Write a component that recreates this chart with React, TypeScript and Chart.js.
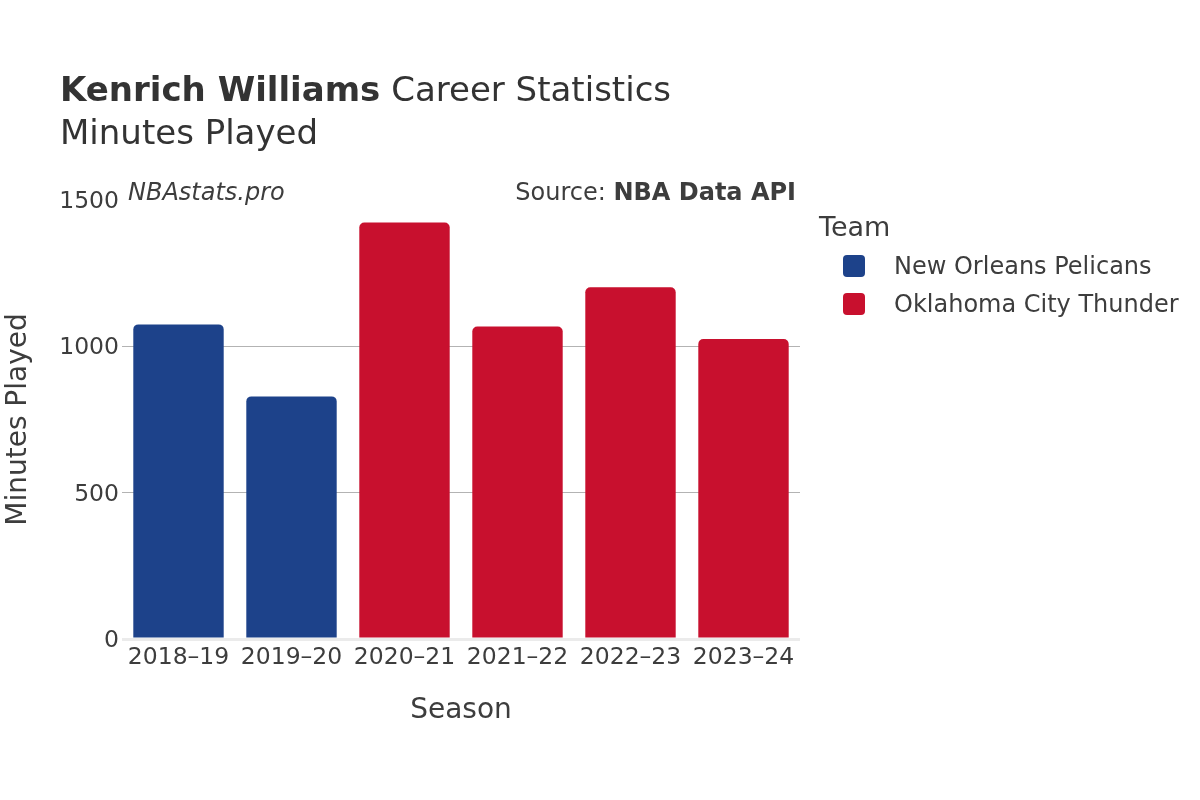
import React, { useEffect, useRef } from "react";
import { Chart, registerables } from "chart.js";

Chart.register(...registerables);

const seasons = ["2018–19", "2019–20", "2020–21", "2021–22", "2022–23", "2023–24"];
const teams = ["New Orleans Pelicans", "Oklahoma City Thunder"];
const teamColors = ["#1d428a", "#c8102e"];
const pelicansMinutes = [1075, 829, null, null, null, null];
const thunderMinutes = [null, null, 1423, 1068, 1202, 1025];
const yTicks = [0, 500, 1000, 1500];

const FONT = "'DejaVu Sans', sans-serif";
const TEXT = "#3d3d3d";
const TITLE = "#333333";

export default function App() {
  const canvasRef = useRef<HTMLCanvasElement | null>(null);

  useEffect(() => {
    if (!canvasRef.current) return;
    const chart = new Chart(canvasRef.current, {
      type: "bar",
      data: {
        labels: seasons,
        datasets: [
          {
            label: teams[0],
            data: pelicansMinutes,
            backgroundColor: teamColors[0],
            borderRadius: 5,
            borderSkipped: "start",
            barPercentage: 0.8,
            categoryPercentage: 1.0,
          },
          {
            label: teams[1],
            data: thunderMinutes,
            backgroundColor: teamColors[1],
            borderRadius: 5,
            borderSkipped: "start",
            barPercentage: 0.8,
            categoryPercentage: 1.0,
          },
        ],
      },
      options: {
        animation: false,
        responsive: false,
        maintainAspectRatio: false,
        layout: { padding: { left: 0, right: 400, top: 200, bottom: 0 } },
        plugins: {
          legend: { display: false },
          tooltip: { enabled: false },
          title: { display: false },
        },
        scales: {
          x: {
            stacked: true,
            grid: { display: false, drawTicks: false },
            border: { display: false },
            ticks: {
              color: TEXT,
              font: { family: FONT, size: 23.5 },
              padding: 5,
              maxRotation: 0,
            },
            title: {
              display: true,
              text: "Season",
              color: TEXT,
              font: { family: FONT, size: 28 },
              padding: { top: 0, bottom: 72 },
            },
            afterFit: (scale: any) => {
              scale.height = 161;
            },
          },
          y: {
            stacked: true,
            min: 0,
            max: 1500,
            afterBuildTicks: (scale: any) => {
              scale.ticks = yTicks.map((v) => ({ value: v }));
            },
            grid: {
              drawTicks: false,
              color: (ctx: any) =>
                ctx.tick && ctx.tick.value === 0
                  ? "#ebebeb"
                  : ctx.tick && ctx.tick.value === 1500
                  ? "rgba(0,0,0,0)"
                  : "#b3b3b3",
              lineWidth: (ctx: any) => (ctx.tick && ctx.tick.value === 0 ? 3 : 1),
            },
            border: { display: false },
            ticks: {
              color: TEXT,
              font: { family: FONT, size: 23.5 },
              padding: 3,
              labelOffset: 2,
              callback: (value: any) => String(value),
            },
            title: {
              display: true,
              text: "Minutes Played",
              color: TEXT,
              font: { family: FONT, size: 28 },
              padding: { top: 2, bottom: 0 },
            },
            afterFit: (scale: any) => {
              scale.width = 122;
            },
          },
        },
      },
    });
    return () => chart.destroy();
  }, []);

  const abs = (style: React.CSSProperties): React.CSSProperties => ({
    position: "absolute",
    whiteSpace: "nowrap",
    lineHeight: 1,
    fontFamily: FONT,
    color: TEXT,
    ...style,
  });

  return (
    <div
      style={{
        position: "absolute",
        left: 0,
        top: 0,
        width: 1200,
        height: 800,
        background: "#ffffff",
        overflow: "hidden",
      }}
    >
      <canvas ref={canvasRef} width={1200} height={800} style={{ position: "absolute", left: 0, top: 0 }} />
      <div style={abs({ left: 60, top: 72, fontSize: 34, color: TITLE })}>
        <span style={{ fontWeight: "bold" }}>Kenrich Williams</span> Career Statistics
      </div>
      <div style={abs({ left: 60, top: 115, fontSize: 34, color: TITLE })}>Minutes Played</div>
      <div style={abs({ left: 128, top: 180, fontSize: 24, fontStyle: "italic" })}>NBAstats.pro</div>
      <div style={abs({ right: 404, top: 180, fontSize: 24, textAlign: "right" })}>
        Source: <span style={{ fontWeight: "bold" }}>NBA Data API</span>
      </div>
      <div style={abs({ left: 819, top: 213, fontSize: 27 })}>Team</div>
      {teams.map((t, i) => (
        <React.Fragment key={t}>
          <div
            style={{
              position: "absolute",
              left: 843,
              top: 255 + i * 38,
              width: 22,
              height: 22,
              borderRadius: 4,
              background: teamColors[i],
            }}
          />
          <div style={abs({ left: 894, top: 254 + i * 38, fontSize: 24 })}>{t}</div>
        </React.Fragment>
      ))}
    </div>
  );
}
